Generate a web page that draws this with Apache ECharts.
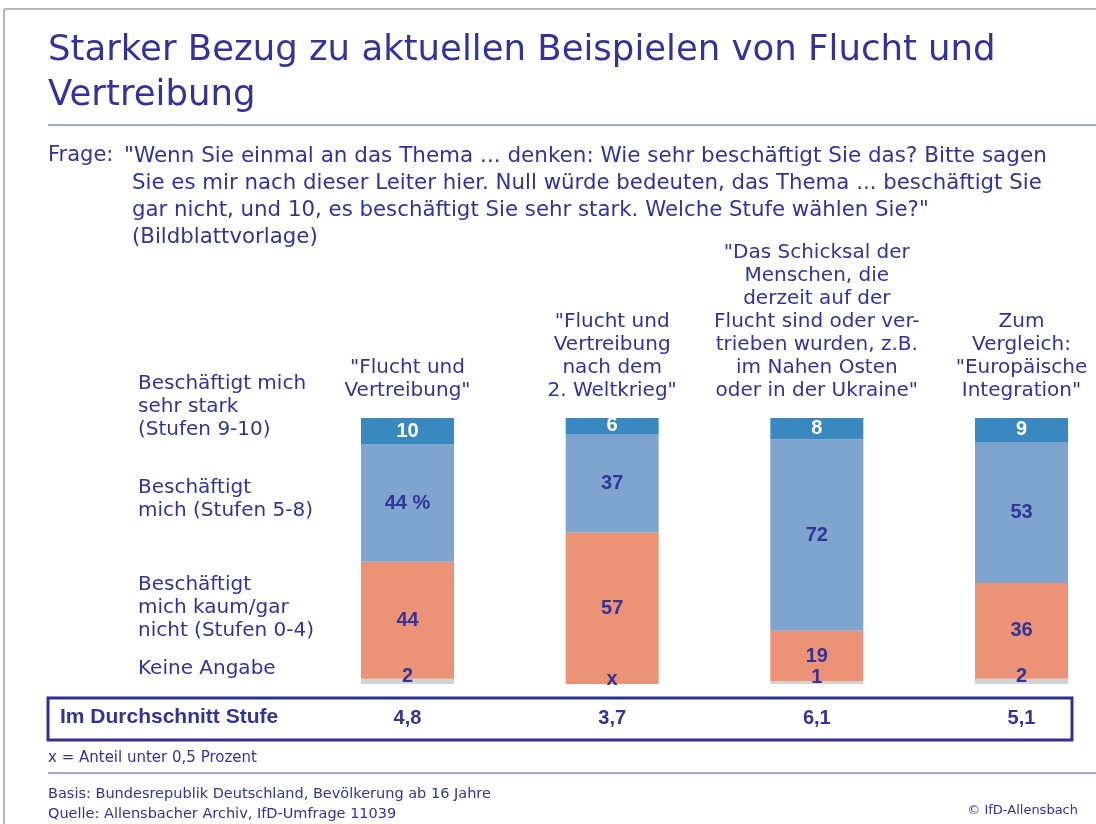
<!DOCTYPE html>
<html>
<head>
<meta charset="utf-8">
<script src="https://cdn.jsdelivr.net/npm/echarts@6/dist/echarts.min.js"></script>
<style>
    html, body { margin: 0; padding: 0; background: #fff; }
    #chart { width: 1096px; height: 824px; }
</style>
</head>
<body>
<div id="chart"></div>
<script>
    // column headers (top axis)
    const columns = [
        '"Flucht und\nVertreibung"',
        '"Flucht und\nVertreibung\nnach dem\n2. Weltkrieg"',
        '"Das Schicksal der\nMenschen, die\nderzeit auf der\nFlucht sind oder ver-\ntrieben wurden, z.B.\nim Nahen Osten\noder in der Ukraine"',
        'Zum\nVergleich:\n"Europäische\nIntegration"'
    ]
    // Prozent, von unten nach oben gestapelt
    const keineAngabe = [2, 0, 1, 2]
    const keineAngabeLabels = ['2', 'x', '1', '2']
    const kaum = [44, 57, 19, 36]
    const mich = [44, 37, 72, 53]
    const sehrStark = [10, 6, 8, 9]
    // Durchschnitt Stufe
    const durchschnitt = ['4,8', '3,7', '6,1', '5,1']

    const rowLabels = [
        { text: 'Beschäftigt mich\nsehr stark\n(Stufen 9-10)', y: 372 },
        { text: 'Beschäftigt\nmich (Stufen 5-8)', y: 476 },
        { text: 'Beschäftigt\nmich kaum/gar\nnicht (Stufen 0-4)', y: 573 },
        { text: 'Keine Angabe', y: 657 }
    ]

    const blue = '#33339a'
    const font = '"DejaVu Sans", sans-serif'
    const numFont = '"Liberation Sans", sans-serif'

    const chart = echarts.init(document.getElementById('chart'))

    const numLabel = {
        show: true,
        position: 'inside',
        color: blue,
        fontFamily: numFont,
        fontWeight: 'bold',
        fontSize: 20
    }

    chart.setOption({
        animation: false,
        grid: {
            left: 407.5,
            top: 418,
            width: 614,
            height: 266
        },
        xAxis: [{
            type: 'category',
            data: columns,
            boundaryGap: false,
            position: 'bottom',
            axisLine: { show: false },
            axisTick: { show: false },
            splitLine: { show: false },
            axisLabel: {
                interval: 0,
                margin: 24,
                color: blue,
                fontFamily: numFont,
                fontWeight: 'bold',
                fontSize: 20,
                formatter: function (v, i) { return durchschnitt[i] }
            }
        }, {
            type: 'category',
            data: columns,
            boundaryGap: false,
            position: 'top',
            axisLine: { show: false },
            axisTick: { show: false },
            splitLine: { show: false },
            axisLabel: {
                interval: 0,
                margin: 16,
                color: blue,
                fontFamily: font,
                fontSize: 20,
                lineHeight: 23,
                align: 'center'
            }
        }],
        yAxis: {
            type: 'value',
            min: 0,
            max: 100,
            show: false
        },
        series: [{
            name: 'Keine Angabe',
            type: 'bar',
            stack: 'all',
            clip: false,
            barWidth: 93,
            data: keineAngabe,
            itemStyle: { color: '#d1d3d5' },
            label: Object.assign({}, numLabel, {
                offset: [0, -5],
                formatter: function (p) { return keineAngabeLabels[p.dataIndex] }
            })
        }, {
            name: 'kaum',
            type: 'bar',
            stack: 'all',
            clip: false,
            data: kaum,
            itemStyle: { color: '#ec9276' },
            label: numLabel
        }, {
            name: 'mich',
            type: 'bar',
            stack: 'all',
            clip: false,
            data: mich,
            itemStyle: { color: '#7fa5cf' },
            label: Object.assign({}, numLabel, {
                formatter: function (p) { return p.dataIndex === 0 ? p.value + ' %' : p.value }
            })
        }, {
            name: 'sehr stark',
            type: 'bar',
            stack: 'all',
            clip: false,
            data: sehrStark,
            itemStyle: { color: '#3a88c0' },
            label: Object.assign({}, numLabel, { color: '#fff' })
        }],
        graphic: [
            // frame
            { type: 'line', shape: { x1: 4, y1: 9, x2: 1096, y2: 9 }, style: { stroke: '#a0a0a0', lineWidth: 1.5 } },
            { type: 'line', shape: { x1: 4, y1: 9, x2: 4, y2: 824 }, style: { stroke: '#a0a0a0', lineWidth: 1.5 } },
            {
                type: 'text', left: 48, top: 28,
                style: {
                    text: 'Starker Bezug zu aktuellen Beispielen von Flucht und\nVertreibung',
                    fill: blue, font: '35.5px ' + font, lineHeight: 45
                }
            },
            { type: 'line', shape: { x1: 48, y1: 125, x2: 1096, y2: 125 }, style: { stroke: '#8a8ac6', lineWidth: 1.5 } },
            {
                type: 'text', left: 48, top: 145,
                style: { text: 'Frage:', fill: blue, font: '21px ' + font }
            },
            {
                type: 'text', left: 124, top: 145,
                style: {
                    text: '"Wenn Sie einmal an das Thema ... denken: Wie sehr beschäftigt Sie das? Bitte sagen',
                    fill: blue, font: '21.5px ' + font
                }
            },
            {
                type: 'text', left: 132, top: 170,
                style: {
                    text: 'Sie es mir nach dieser Leiter hier. Null würde bedeuten, das Thema ... beschäftigt Sie\ngar nicht, und 10, es beschäftigt Sie sehr stark. Welche Stufe wählen Sie?"\n(Bildblattvorlage)',
                    fill: blue, font: '21.3px ' + font, lineHeight: 27
                }
            },
            ...rowLabels.map(function (r) {
                return {
                    type: 'text', left: 138, top: r.y,
                    style: { text: r.text, fill: blue, font: '20px ' + font, lineHeight: 23 }
                }
            }),
            // Durchschnitt box
            {
                type: 'rect', shape: { x: 48, y: 698, width: 1024, height: 42 },
                style: { fill: 'none', stroke: '#2e3192', lineWidth: 3 }
            },
            {
                type: 'text', left: 60, top: 707,
                style: { text: 'Im Durchschnitt Stufe', fill: blue, font: 'bold 21px ' + numFont }
            },
            {
                type: 'text', left: 48, top: 751,
                style: { text: 'x = Anteil unter 0,5 Prozent', fill: blue, font: '15px ' + font }
            },
            { type: 'line', shape: { x1: 48, y1: 773, x2: 1096, y2: 773 }, style: { stroke: '#8a8ac6', lineWidth: 1.5 } },
            {
                type: 'text', left: 48, top: 784,
                style: {
                    text: 'Basis: Bundesrepublik Deutschland, Bevölkerung ab 16 Jahre\nQuelle: Allensbacher Archiv, IfD-Umfrage 11039',
                    fill: blue, font: '14.5px ' + font, lineHeight: 20
                }
            },
            {
                type: 'text', right: 18, top: 804,
                style: { text: '© IfD-Allensbach', fill: blue, font: '13px ' + font }
            }
        ]
    })
</script>
</body>
</html>
